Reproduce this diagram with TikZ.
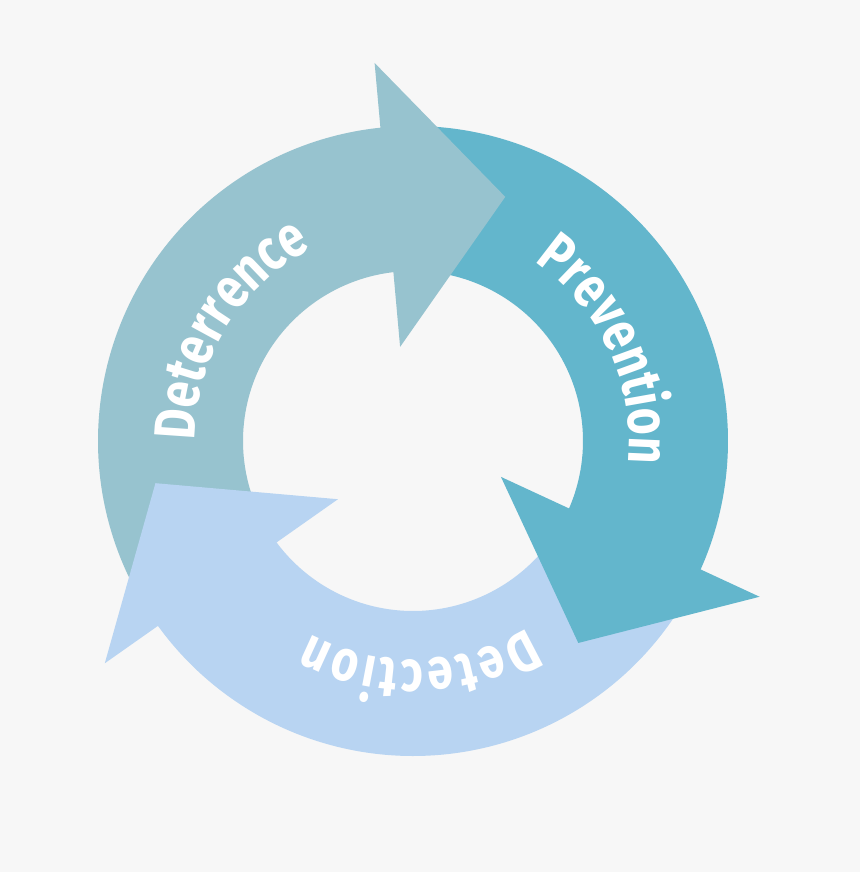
\documentclass[tikz,border=0pt]{standalone}
\usepackage{fontspec}
\newfontfamily\cyclefont[FakeStretch=0.8]{Fira Sans}
\usetikzlibrary{decorations.text}
\definecolor{Backdrop}{HTML}{F7F7F7}
\definecolor{Deter}{HTML}{97C3CF}
\definecolor{Prevent}{HTML}{63B6CC}
\definecolor{Detect}{HTML}{B8D4F2}

\begin{document}
\begin{tikzpicture}[bandtext/.style={decorate, decoration={text along path, text align={fit to path}, text color=white, text={|\cyclefont\bfseries\fontsize{33}{40}\selectfont|#1}}}]
\fill[Backdrop] (-8.26,-8.62) rectangle (8.94,8.82);
% bands first, heads on top
\foreach \rot/\col in {0/Deter,-120/Prevent,-240/Detect}{\fill[\col, rotate=\rot] (208:6.3) arc[start angle=208, end angle=93, radius=6.3] -- (93:3.4) arc[start angle=93, end angle=208, radius=3.4] -- cycle;}
\foreach \rot/\col in {0/Deter,-120/Prevent,-240/Detect}{\fill[\col, rotate=\rot] (95.8:7.6) -- (69.3:5.22) -- (97.8:1.9) -- cycle;}
% labels
\path[bandtext=Deterrence] (180:4.36) arc[start angle=180, end angle=121, radius=4.36];
\path[bandtext=Prevention] (56:4.32) arc[start angle=56, end angle=-6, radius=4.32];
\path[bandtext=Detection] (-58.5:4.38) arc[start angle=-58.5, end angle=-118, radius=4.38];
\end{tikzpicture}
\end{document}
